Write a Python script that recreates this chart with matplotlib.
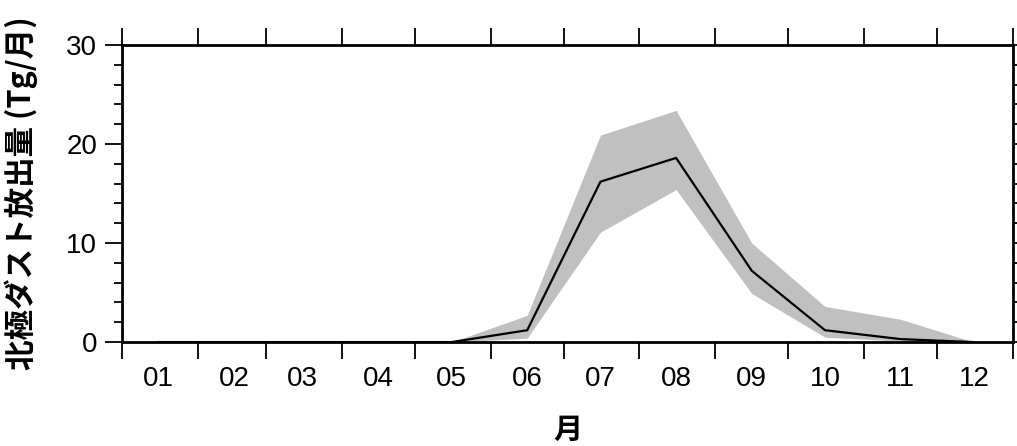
import datetime as dt
import matplotlib
matplotlib.use("Agg")
import matplotlib.pyplot as plt
import matplotlib.dates as mdates

plt.rcParams['font.family'] = ['Liberation Sans', 'Noto Sans CJK JP', 'DejaVu Sans']

# monthly mean and range (Tg/month)
months = list(range(1, 13))
month_labels = ['01', '02', '03', '04', '05', '06', '07', '08', '09', '10', '11', '12']
mean_emis = [0, 0, 0, 0, 0, 1.2, 16.2, 18.6, 7.2, 1.2, 0.3, 0]
upper_emis = [0, 0, 0, 0, 0, 2.7, 20.9, 23.4, 10.0, 3.6, 2.3, 0]
lower_emis = [0, 0, 0, 0, 0, 0.4, 11.1, 15.4, 4.9, 0.5, 0.1, 0]

year = 2001
mid = [dt.datetime(year, m, 16) for m in months]
starts = [dt.datetime(year, m, 1) for m in months] + [dt.datetime(year + 1, 1, 1)]

fig = plt.figure(figsize=(10.17, 4.46), dpi=100)
ax = fig.add_axes([0.12, 0.233, 0.876, 0.666])

ax.fill_between(mid, lower_emis, upper_emis, color='#c0c0c0', lw=0)
ax.plot(mid, mean_emis, color='black', lw=1.6)

ax.set_xlim(starts[0], starts[-1])
ax.set_ylim(0, 30)

ax.set_xticks(starts)
ax.set_xticklabels([])
ax.set_xticks(mid, minor=True)
ax.set_xticklabels(month_labels, minor=True, fontsize=20)
ax.tick_params(axis='x', which='major', direction='out', length=12, width=1.3,
               top=True, bottom=True)
ax.tick_params(axis='x', which='minor', length=0, pad=17)

ax.set_yticks([0, 10, 20, 30])
ax.set_yticks(range(0, 31, 2), minor=True)
ax.tick_params(axis='y', which='major', direction='out', length=12, width=1.3,
               left=True, right=True, labelsize=20, pad=6)
ax.tick_params(axis='y', which='minor', direction='out', length=6, width=1.3,
               left=True, right=True)

for s in ax.spines.values():
    s.set_linewidth(2)

ax.set_ylabel('北極ダスト放出量 (Tg/月)', fontsize=22, fontweight='bold',
              family=['Noto Sans CJK JP', 'DejaVu Sans'], labelpad=20)
ax.set_xlabel('月', fontsize=21, fontweight='bold',
              family=['Noto Sans CJK JP', 'DejaVu Sans'], labelpad=17)

fig.savefig('out.png', dpi=100)
